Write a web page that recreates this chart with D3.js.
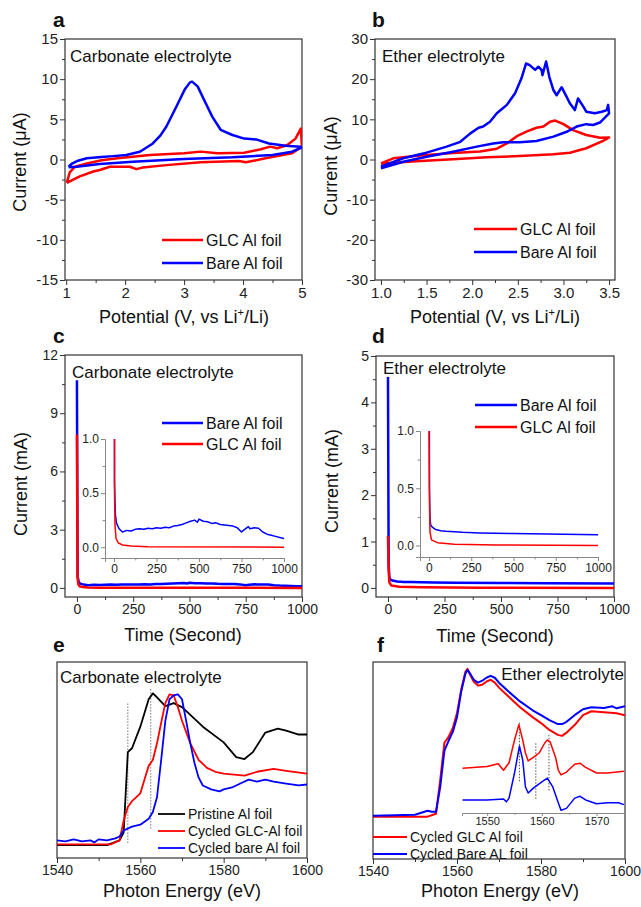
<!DOCTYPE html>
<html lang="en">
<head>
<meta charset="UTF-8">
<title>Al foil corrosion figure</title>
<script src="https://d3js.org/d3.v7.min.js"></script>
<style>
  body { margin: 0; background: #fff; }
  svg { display: block; font-family: "Liberation Sans", Arial, sans-serif; }
  .frame { fill: none; stroke: #333; stroke-width: 1.2; }
  .tick line { stroke: #333; }
  .inset .tick line, .inset .domain { stroke: #888; }
</style>
</head>
<body>
<div id="chart"></div>
<script>
// ---- panel a: CV, carbonate electrolyte (V, uA), loops
const aBare = [[1.04,-0.9],[1.1,-0.5],[1.2,-0.15],[1.35,0.15],[1.6,0.3],[1.8,0.42],[2.02,0.56],[2.25,0.97],[2.47,2.0],[2.6,3.0],[2.7,4.1],[2.87,6.6],[3.01,8.7],[3.1,9.6],[3.135,9.7],[3.23,9.1],[3.34,7.4],[3.48,5.3],[3.62,3.7],[3.82,3.05],[4.02,2.6],[4.22,2.5],[4.44,2.0],[4.72,1.7],[4.97,1.6],[5.0,1.5],
  [4.83,0.97],[4.5,0.56],[3.82,0.27],[3.0,0.06],[2.13,-0.27],[1.57,-0.56],[1.18,-0.9],[1.04,-0.95]];
const aGlc = [[1.01,-2.9],[1.06,-1.6],[1.15,-0.9],[1.35,-0.5],[1.6,-0.1],[1.87,0.15],[2.42,0.56],[3.0,0.77],[3.28,0.98],[3.57,0.77],[4.02,0.85],[4.3,1.27],[4.46,1.6],[4.58,1.4],[4.75,1.8],[4.89,2.6],[4.98,3.85],[5.0,1.6],
  [4.83,0.77],[4.38,0.15],[4.05,-0.35],[3.93,-0.2],[3.28,-0.35],[2.7,-0.7],[2.3,-1.0],[2.19,-1.2],[2.08,-0.9],[1.74,-0.9],[1.57,-1.3],[1.46,-1.5],[1.23,-2.1],[1.01,-2.9]];

// ---- panel b: CV, ether electrolyte
const bBare = [[1.0,-1.8],[1.1,-0.9],[1.245,0.3],[1.5,1.7],[1.72,3.2],[1.87,4.4],[1.98,6.5],[2.07,7.9],[2.12,8.2],[2.195,9.4],[2.27,11.5],[2.38,13.6],[2.47,16.5],[2.54,20.2],[2.59,23.9],[2.63,23.5],[2.69,22.3],[2.725,23.1],[2.76,22.3],[2.77,21.0],[2.81,24.4],[2.845,20.6],[2.89,17.3],[2.925,16.0],[2.98,18.0],[3.035,15.6],[3.07,14.0],[3.125,12.3],[3.16,15.2],[3.22,13.1],[3.25,11.9],[3.345,11.5],[3.42,11.9],[3.475,12.3],[3.49,13.6],[3.5,11.5],
  [3.465,10.7],[3.40,9.2],[3.325,8.6],[3.25,8.8],[3.145,8.2],[3.035,6.9],[2.89,5.7],[2.705,4.6],[2.52,4.3],[2.34,4.3],[2.23,4.0],[2.05,3.2],[1.79,1.95],[1.5,0.7],[1.245,-0.55],[1.0,-2.2]];
const bGlc = [[1.0,-0.95],[1.135,0.3],[1.43,1.0],[1.79,1.6],[2.085,2.0],[2.27,2.7],[2.38,4.0],[2.49,5.8],[2.6,7.0],[2.705,7.9],[2.78,8.2],[2.853,9.4],[2.91,9.7],[3.0,8.8],[3.105,7.3],[3.25,6.1],[3.40,5.4],[3.5,5.5],
  [3.44,4.7],[3.25,2.8],[3.07,1.7],[2.89,1.3],[2.52,0.87],[2.16,0.55],[1.79,0.05],[1.43,-0.37],[1.135,-0.8],[1.0,-1.05]];

// ---- panel c: chronoamperometry, carbonate (s, mA)
const cBare = [[0,10.7],[3,0.6],[8,0.3],[15,0.22],[30,0.17],[50,0.14],[75,0.155],[100,0.15],[125,0.165],[150,0.17],[175,0.165],[200,0.175],[225,0.17],[250,0.18],[275,0.175],[300,0.185],[325,0.18],[350,0.195],[375,0.2],[400,0.21],[425,0.225],[450,0.24],[475,0.25],[490,0.23],[500,0.26],[525,0.24],[550,0.235],[575,0.22],[600,0.225],[625,0.21],[650,0.205],[675,0.2],[700,0.195],[725,0.18],[750,0.14],[765,0.16],[790,0.19],[800,0.17],[825,0.18],[850,0.175],[875,0.14],[900,0.12],[925,0.11],[950,0.1],[975,0.09],[1000,0.08]];
const cGlc = [[0,7.9],[3,0.5],[6,0.2],[12,0.08],[25,0.04],[50,0.02],[100,0.01],[200,0.005],[1000,0.0]];

// ---- panel d: chronoamperometry, ether
const dBare = [[0,4.55],[3,0.5],[6,0.24],[10,0.18],[20,0.16],[40,0.14],[70,0.13],[100,0.125],[200,0.115],[300,0.11],[500,0.105],[700,0.1],[1000,0.095]];
const dGlc = [[0,1.12],[3,0.4],[6,0.12],[15,0.05],[50,0.025],[150,0.012],[400,0.005],[1000,0.0]];

// ---- panel e: Al K-edge XANES, carbonate (eV, normalised height)
const ePristine = [[1540,0.066],[1552,0.066],[1555,0.09],[1556,0.13],[1557,0.54],[1558,0.56],[1560,0.67],[1562,0.81],[1563,0.84],[1564,0.82],[1566,0.775],[1568,0.79],[1570,0.77],[1572,0.73],[1575,0.67],[1580,0.59],[1583,0.515],[1585,0.505],[1587,0.54],[1590,0.64],[1593,0.66],[1595,0.65],[1598,0.63],[1600,0.63]];
const eGlc = [[1540,0.07],[1553,0.07],[1555,0.09],[1556,0.19],[1557,0.26],[1558,0.29],[1560,0.33],[1561,0.40],[1562,0.47],[1563,0.50],[1564,0.585],[1565,0.69],[1566,0.79],[1567,0.835],[1568,0.83],[1569,0.77],[1570,0.70],[1572,0.585],[1574,0.50],[1576,0.46],[1578,0.44],[1580,0.43],[1585,0.42],[1588,0.44],[1592,0.455],[1595,0.445],[1600,0.43]];
const eBare = [[1540,0.09],[1542,0.085],[1544,0.095],[1546,0.085],[1548,0.09],[1549,0.08],[1550,0.095],[1552,0.09],[1554,0.10],[1555,0.11],[1556,0.14],[1558,0.16],[1560,0.17],[1562,0.20],[1563,0.235],[1564,0.31],[1565,0.50],[1566,0.70],[1567,0.81],[1568,0.83],[1569,0.835],[1570,0.81],[1571,0.70],[1572,0.585],[1573,0.485],[1574,0.41],[1575,0.37],[1577,0.35],[1579,0.34],[1580,0.35],[1582,0.36],[1584,0.38],[1586,0.40],[1588,0.39],[1590,0.40],[1592,0.39],[1595,0.38],[1598,0.37],[1600,0.375]];
const eGuides = [[1557,0.077,0.79],[1562.5,0.15,0.87]];

// ---- panel f: Al K-edge XANES, ether, with derivative inset
const fGlc = [[1540,0.215],[1553,0.215],[1555,0.23],[1556,0.40],[1557,0.59],[1558,0.62],[1559,0.665],[1560,0.74],[1561,0.86],[1562,0.95],[1562.5,0.965],[1563,0.94],[1564,0.90],[1565,0.88],[1566,0.885],[1567,0.90],[1568,0.91],[1569,0.895],[1570,0.87],[1572,0.83],[1575,0.77],[1578,0.72],[1580,0.69],[1582,0.655],[1584,0.63],[1585,0.625],[1586,0.64],[1588,0.68],[1590,0.73],[1592,0.75],[1595,0.745],[1598,0.74],[1600,0.73]];
const fBare = [[1540,0.22],[1550,0.225],[1553,0.245],[1554,0.24],[1555,0.24],[1556,0.365],[1557,0.55],[1558,0.60],[1559,0.645],[1560,0.72],[1561,0.85],[1562,0.94],[1562.5,0.96],[1563,0.945],[1564,0.91],[1565,0.895],[1566,0.905],[1567,0.92],[1568,0.93],[1569,0.92],[1570,0.895],[1572,0.855],[1575,0.80],[1578,0.755],[1580,0.73],[1582,0.705],[1584,0.685],[1585,0.685],[1586,0.695],[1588,0.73],[1590,0.76],[1592,0.77],[1595,0.767],[1597,0.775],[1598,0.765],[1600,0.775]];
const fInsetGlc = [[1545.5,0.48],[1550,0.50],[1552,0.53],[1553,0.46],[1554,0.54],[1555,0.785],[1555.8,0.95],[1556.5,0.785],[1557,0.645],[1557.5,0.56],[1558.5,0.60],[1559.5,0.645],[1560.5,0.75],[1561,0.785],[1561.5,0.765],[1562.5,0.60],[1563,0.46],[1563.5,0.41],[1564.5,0.44],[1566,0.525],[1567,0.535],[1568,0.49],[1570,0.43],[1572,0.43],[1575,0.45]];
const fInsetBare = [[1545.5,0.14],[1550,0.14],[1553,0.15],[1553.5,0.12],[1554,0.16],[1555,0.43],[1555.9,0.72],[1556.5,0.57],[1557,0.28],[1557.5,0.215],[1558.5,0.27],[1560,0.335],[1561,0.375],[1562,0.28],[1563,0.11],[1563.5,0.03],[1564.5,0.05],[1566,0.16],[1567,0.18],[1568,0.14],[1570,0.10],[1572,0.11],[1574,0.11],[1575,0.09]];
const fGuides = [[1555.9,0.97,0.33],[1558.9,0.75,0.14],[1561.3,0.84,0.23]];

const RED = "#ff0000", BLUE = "#0000ff", BLACK = "#000000";

const svg = d3.select("#chart").append("svg").attr("width", 641).attr("height", 907);
const defs = svg.append("defs");
let clipN = 0;

function range(a, b, s) { return d3.range(a, b + s / 2, s); }

// box panel with Origin style outward ticks on left and bottom
function makePanel(p) {
  const x = d3.scaleLinear().domain(p.xDom).range([p.left, p.right]);
  const y = d3.scaleLinear().domain(p.yDom).range([p.bottom, p.top]);
  const id = "clip" + (clipN++);
  defs.append("clipPath").attr("id", id).append("rect")
    .attr("x", p.left).attr("y", p.top)
    .attr("width", p.right - p.left).attr("height", p.bottom - p.top);
  const g = svg.append("g").attr("class", p.cls || "");
  const fs = p.fs || 14;
  const tk = p.tick || 5, pad = p.pad == null ? 2 : p.pad;

  const xg = g.append("g").attr("transform", `translate(0,${p.bottom})`)
    .call(d3.axisBottom(x).tickValues(p.xMajor).tickSize(tk).tickPadding(pad).tickFormat(p.xFmt));
  xg.append("g").call(d3.axisBottom(x).tickValues(p.xMinor).tickSize(tk * 0.6).tickFormat(""))
    .select(".domain").remove();
  xg.selectAll("text").attr("font-size", fs).attr("fill", "#222").attr("font-family", null);
  if (!p.cls) xg.select(".domain").remove();

  if (p.yMajor) {
    const yg = g.append("g").attr("transform", `translate(${p.left},0)`)
      .call(d3.axisLeft(y).tickValues(p.yMajor).tickSize(tk).tickPadding(pad).tickFormat(p.yFmt));
    yg.append("g").call(d3.axisLeft(y).tickValues(p.yMinor).tickSize(tk * 0.6).tickFormat(""))
      .select(".domain").remove();
    yg.selectAll("text").attr("font-size", fs).attr("fill", "#222").attr("font-family", null);
    if (!p.cls) yg.select(".domain").remove();
  }
  if (!p.cls) {
    g.append("rect").attr("class", "frame")
      .attr("x", p.left).attr("y", p.top)
      .attr("width", p.right - p.left).attr("height", p.bottom - p.top);
  }
  const lines = svg.append("g").attr("clip-path", `url(#${id})`);
  return {x, y, g, lines};
}

function drawLine(P, data, color, w) {
  P.lines.append("path").datum(data)
    .attr("fill", "none").attr("stroke", color).attr("stroke-width", w)
    .attr("stroke-linejoin", "round")
    .attr("d", d3.line().x(d => P.x(d[0])).y(d => P.y(d[1])));
}

function legend(items, x1, x2, ys, fs, w) {
  items.forEach((it, i) => {
    svg.append("line").attr("x1", x1).attr("x2", x2).attr("y1", ys[i]).attr("y2", ys[i])
      .attr("stroke", it[1]).attr("stroke-width", w);
    svg.append("text").attr("x", x2 + 3).attr("y", ys[i]).attr("dy", "0.35em")
      .attr("font-size", fs).attr("fill", "#111").text(it[0]);
  });
}

function label(txt, x, y, fs, anchor, weight) {
  return svg.append("text").attr("x", x).attr("y", y).attr("font-size", fs)
    .attr("text-anchor", anchor || "start").attr("font-weight", weight || "normal")
    .attr("fill", "#111").text(txt);
}

function yTitle(txt, x, y) {
  svg.append("text").attr("transform", `translate(${x},${y}) rotate(-90)`)
    .attr("text-anchor", "middle").attr("font-size", 18).attr("fill", "#111").text(txt);
}

function potentialTitle(cx, y) {
  const t = svg.append("text").attr("x", cx).attr("y", y).attr("text-anchor", "middle")
    .attr("font-size", 18).attr("fill", "#111");
  t.append("tspan").text("Potential (V, vs Li");
  t.append("tspan").attr("dy", -7).attr("font-size", 11).text("+");
  t.append("tspan").attr("dy", 7).text("/Li)");
}

const str = d => String(d);
const fix1 = d => d.toFixed(1);

// ---------------- a
const A = makePanel({left: 65, right: 302, top: 39, bottom: 280, xDom: [0.98, 5], yDom: [-15, 15],
  xMajor: range(1, 5, 1), xMinor: range(1.5, 4.5, 1), yMajor: range(-15, 15, 5), yMinor: range(-12.5, 12.5, 5),
  xFmt: str, yFmt: str, fs: 15});
drawLine(A, aGlc, RED, 2.5);
drawLine(A, aBare, BLUE, 2.5);
label("a", 53, 27, 21, "start", "bold");
label("Carbonate electrolyte", 70, 62, 17);
legend([["GLC Al foil", RED], ["Bare Al foil", BLUE]], 162, 203, [240, 263], 16, 2.5);
yTitle("Current (\u03bcA)", 26, 162);
potentialTitle(184, 323);

// ---------------- b
const B = makePanel({left: 375, right: 615, top: 39, bottom: 280, xDom: [0.935, 3.565], yDom: [-30, 30],
  xMajor: range(1, 3.5, 0.5), xMinor: range(1.25, 3.25, 0.5), yMajor: range(-30, 30, 10), yMinor: range(-25, 25, 10),
  xFmt: fix1, yFmt: str, fs: 15});
drawLine(B, bGlc, RED, 2.5);
drawLine(B, bBare, BLUE, 2.5);
label("b", 372, 27, 21, "start", "bold");
label("Ether electrolyte", 382, 62, 17);
legend([["GLC Al foil", RED], ["Bare Al foil", BLUE]], 474, 517, [229, 252], 16, 2.5);
yTitle("Current (\u03bcA)", 337, 166);
potentialTitle(495, 323);

// ---------------- c
const C = makePanel({left: 65, right: 302, top: 355, bottom: 597, xDom: [-53, 1000], yDom: [-0.47, 12],
  xMajor: range(0, 1000, 250), xMinor: range(125, 875, 250), yMajor: range(0, 12, 3), yMinor: range(1.5, 10.5, 3),
  xFmt: str, yFmt: str, fs: 14});
drawLine(C, cBare, BLUE, 2.5);
drawLine(C, cGlc, RED, 2.5);
label("c", 53, 343, 21, "start", "bold");
label("Carbonate electrolyte", 72, 378, 17);
legend([["Bare Al foil", BLUE], ["GLC Al foil", RED]], 162, 203, [423, 444], 16, 2.5);
yTitle("Current (mA)", 27, 484);
label("Time (Second)", 183, 641, 18, "middle");

const CI = makePanel({cls: "inset", left: 105, right: 284, top: 439, bottom: 558, xDom: [-53, 1000], yDom: [-0.1, 1.0],
  xMajor: range(0, 1000, 250), xMinor: range(125, 875, 250), yMajor: [0, 0.5, 1.0], yMinor: [0.25, 0.75],
  xFmt: str, yFmt: fix1, fs: 12, tick: 4});
drawLine(CI, cBare, BLUE, 1.5);
drawLine(CI, cGlc, RED, 1.5);

// ---------------- d
const D = makePanel({left: 376, right: 614, top: 356, bottom: 597, xDom: [-53, 1000], yDom: [-0.196, 5],
  xMajor: range(0, 1000, 250), xMinor: range(125, 875, 250), yMajor: range(0, 5, 1), yMinor: range(0.5, 4.5, 1),
  xFmt: str, yFmt: str, fs: 14});
drawLine(D, dBare, BLUE, 2.5);
drawLine(D, dGlc, RED, 2.5);
label("d", 372, 343, 21, "start", "bold");
label("Ether electrolyte", 383, 374, 17);
legend([["Bare Al foil", BLUE], ["GLC Al foil", RED]], 475, 517, [405, 427], 16, 2.5);
yTitle("Current (mA)", 338, 481);
label("Time (Second)", 495, 642, 18, "middle");

const DI = makePanel({cls: "inset", left: 420, right: 598, top: 431, bottom: 557, xDom: [-53, 1000], yDom: [-0.1, 1.0],
  xMajor: range(0, 1000, 250), xMinor: range(125, 875, 250), yMajor: [0, 0.5, 1.0], yMinor: [0.25, 0.75],
  xFmt: str, yFmt: fix1, fs: 12, tick: 4});
drawLine(DI, dBare, BLUE, 1.5);
drawLine(DI, dGlc, RED, 1.5);

// ---------------- e
const E = makePanel({left: 57, right: 307, top: 662, bottom: 858, xDom: [1540, 1600], yDom: [0, 1],
  xMajor: range(1540, 1600, 20), xMinor: range(1550, 1590, 20), xFmt: str, fs: 14});
eGuides.forEach(gd => {
  E.lines.append("line").attr("x1", E.x(gd[0])).attr("x2", E.x(gd[0]))
    .attr("y1", E.y(gd[1])).attr("y2", E.y(gd[2]))
    .attr("stroke", "#777").attr("stroke-width", 1).attr("stroke-dasharray", "1.5,1.5");
});
drawLine(E, ePristine, BLACK, 1.8);
drawLine(E, eGlc, RED, 1.8);
drawLine(E, eBare, BLUE, 1.8);
label("e", 53, 652, 21, "start", "bold");
label("Carbonate electrolyte", 60, 683, 17);
legend([["Pristine Al foil", BLACK], ["Cycled GLC-Al foil", RED], ["Cycled bare Al foil", BLUE]],
  158, 185, [814, 831, 848], 14, 1.8);
label("Photon Energy (eV)", 182, 897, 18, "middle");

// ---------------- f
const F = makePanel({left: 373, right: 625, top: 662, bottom: 859, xDom: [1540, 1600], yDom: [0, 1],
  xMajor: range(1540, 1600, 20), xMinor: range(1550, 1590, 20), xFmt: str, fs: 14});
drawLine(F, fGlc, RED, 2);
drawLine(F, fBare, BLUE, 2);

const FI = makePanel({cls: "inset", left: 462, right: 625, top: 720, bottom: 813, xDom: [1545.4, 1575.2], yDom: [0, 1],
  xMajor: [1550, 1560, 1570], xMinor: [1555, 1565], xFmt: str, fs: 11, tick: 3, pad: 1});
fGuides.forEach(gd => {
  FI.lines.append("line").attr("x1", FI.x(gd[0])).attr("x2", FI.x(gd[0]))
    .attr("y1", FI.y(gd[1])).attr("y2", FI.y(gd[2]))
    .attr("stroke", "#555").attr("stroke-width", 1).attr("stroke-dasharray", "1.5,1.5");
});
drawLine(FI, fInsetGlc, RED, 1.5);
drawLine(FI, fInsetBare, BLUE, 1.5);
label("f", 377, 652, 21, "start", "bold");
label("Ether electrolyte", 624, 680, 17, "end");
legend([["Cycled GLC Al foil", RED], ["Cycled Bare AL foil", BLUE]], 373, 407, [837, 854], 14, 1.8);
label("Photon Energy (eV)", 500, 897, 18, "middle");
</script>
</body>
</html>
